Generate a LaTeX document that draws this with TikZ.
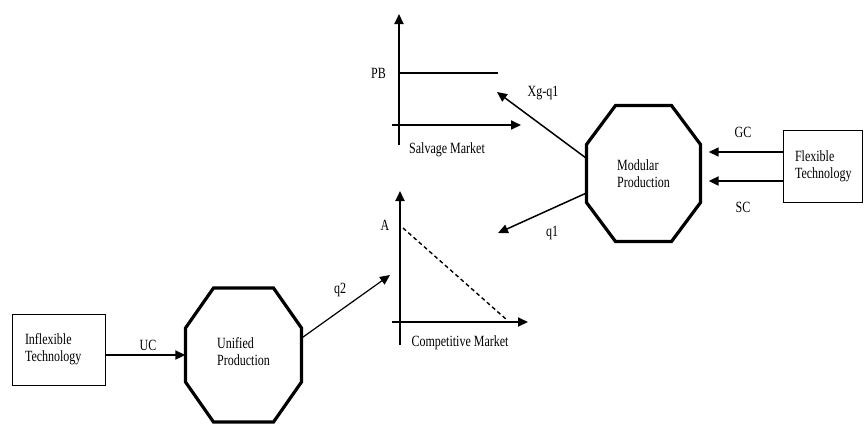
\documentclass[tikz,border=0pt]{standalone}
\usepackage{fontspec}
\setmainfont{Liberation Serif}
\usetikzlibrary{arrows.meta,calc}
\newcommand\tallt[1]{\scalebox{1}[1.3]{#1}}
\begin{document}
\begin{tikzpicture}[x=1pt,y=-1pt,
  lbl/.style={font=\fontsize{12}{17}\selectfont, inner sep=0pt},
  box/.style={draw, line width=1pt, lbl, align=left, inner ysep=4pt},
  octnode/.style={lbl, align=left, minimum width=116pt, minimum height=136pt},
  oct/.style={line width=3.2pt, line join=miter},
  arr/.style={line width=1.5pt, -{Triangle[length=10pt,width=9pt]}},
  axis/.style={line width=1.8pt, -{Triangle[length=10pt,width=9pt]}}]
\useasboundingbox (0,0) rectangle (866,424);
% boxes
\node[box, text width=67pt, inner xsep=13pt, minimum height=71pt] (inf) at (58.5,349.5) {\tallt{Inflexible}\\\tallt{Technology}};
\node[box, text width=55pt, inner xsep=12pt, minimum height=72pt] (flex) at (822.5,166) {\tallt{Flexible}\\\tallt{Technology}};
% octagons
\node[octnode] (uni) at (243.5,352) {\tallt{Unified}\\\tallt{Production}};
\draw[oct, shift={(243.5,355)}] (-30,-67) -- (30,-67) -- (58,-27) -- (58,27) -- (30,67) -- (-30,67) -- (-58,27) -- (-58,-27) -- cycle;
\node[octnode] (mod) at (643.5,173.5) {\tallt{Modular}\\\tallt{Production}};
\draw[oct, shift={(mod.center)}] (-28,-68) -- (28,-68) -- (57,-29) -- (57,29) -- (28,68) -- (-28,68) -- (-57,29) -- (-57,-29) -- cycle;
% salvage market chart
\draw[axis] (399,145) -- (399,14);
\draw[axis] (392,125) -- (521,125);
\draw[line width=1.1pt] (399,73) -- (498,73);
\node[lbl, anchor=east] (pb) at (386,73) {\tallt{PB}};
\node[lbl] (sm) at (447,150) {\tallt{Salvage Market}};
% competitive market chart
\draw[axis] (400,345) -- (400,191);
\draw[axis] (392,322) -- (528,322);
\draw[line width=1.4pt, dash pattern=on 4pt off 3pt] (403,228) -- (507,320);
\node[lbl] (a) at (385,225) {\tallt{A}};
\node[lbl] (cm) at (460,343) {\tallt{Competitive Market}};
% connectors
\coordinate (q2tip) at (390,275);
\coordinate (xgtip) at (497,92);
\coordinate (q1tip) at (498,233);
\draw[arr, line width=1.9pt] (inf.east |- 0,355) -- (uni.west |- 0,355);
\draw[arr, line width=1.2pt] (uni.east |- 0,338) -- (q2tip);
\draw[arr] ($(mod.west)+(0,-16)$) -- (xgtip);
\draw[arr] ($(mod.west)+(0,20)$) -- (q1tip);
\draw[arr] ($(flex.west)+(0,-14)$) -- ($(mod.east)+(7,-21.5)$);
\draw[arr, line width=2.2pt] ($(flex.west)+(0,15)$) -- ($(mod.east)+(7,7.5)$);
% labels
\node[lbl] (uc) at (148,345) {\tallt{UC}};
\node[lbl] (lq2) at (340,290) {\tallt{q2}};
\node[lbl] (lxg) at (543,93) {\tallt{Xg-q1}};
\node[lbl] (lq1) at (552,233) {\tallt{q1}};
\node[lbl] (gc) at (743,132) {\tallt{GC}};
\node[lbl] (sc) at (743,207) {\tallt{SC}};
\end{tikzpicture}
\end{document}
